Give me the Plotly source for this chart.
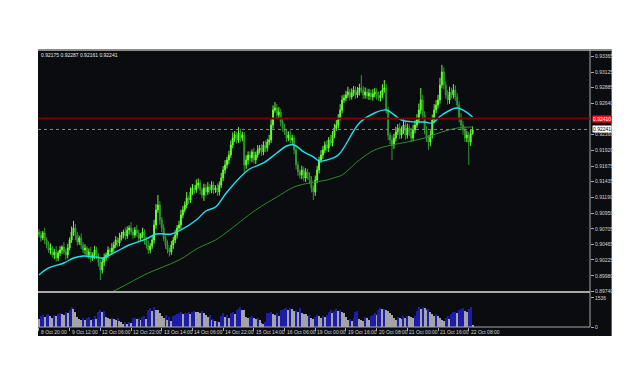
import plotly.graph_objects as go

# ---------------- data ----------------
open0 = 0.90657
closes = [
    0.90610, 0.90564, 0.90642, 0.90533, 0.90456, 0.90379, 0.90409, 0.90301, 0.90348, 0.90255,
    0.90332, 0.90379, 0.90425, 0.90348, 0.90301, 0.90409, 0.90533, 0.90657, 0.90719, 0.90610,
    0.90502, 0.90564, 0.90456, 0.90379, 0.90409, 0.90301, 0.90348, 0.90255, 0.90301, 0.90379,
    0.90286, 0.90193, 0.90070, 0.90193, 0.90255, 0.90301, 0.90379, 0.90348, 0.90409, 0.90456,
    0.90533, 0.90487, 0.90564, 0.90610, 0.90657, 0.90595, 0.90688, 0.90719, 0.90657, 0.90610,
    0.90688, 0.90642, 0.90564, 0.90610, 0.90657, 0.90533, 0.90456, 0.90379, 0.90440, 0.90533,
    0.90765, 0.90997, 0.91074, 0.90842, 0.90719, 0.90564, 0.90456, 0.90379, 0.90348, 0.90456,
    0.90533, 0.90610, 0.90719, 0.90765, 0.90919, 0.90997, 0.91074, 0.91182, 0.91151, 0.91275,
    0.91337, 0.91306, 0.91383, 0.91414, 0.91306, 0.91228, 0.91337, 0.91275, 0.91352, 0.91306,
    0.91383, 0.91306, 0.91337, 0.91275, 0.91383, 0.91491, 0.91615, 0.91692, 0.91769, 0.91846,
    0.92001, 0.92109, 0.92155, 0.92078, 0.92186, 0.92109, 0.92155, 0.91692, 0.91769, 0.91846,
    0.91800, 0.91893, 0.91769, 0.91846, 0.91924, 0.91954, 0.91893, 0.92001, 0.91954, 0.92047,
    0.92078, 0.92310, 0.92541, 0.92573, 0.92464, 0.92511, 0.92356, 0.92263, 0.92202, 0.92109,
    0.92155, 0.92078, 0.92109, 0.91924, 0.91692, 0.91584, 0.91537, 0.91615, 0.91491, 0.91584,
    0.91522, 0.91460, 0.91337, 0.91275, 0.91460, 0.91615, 0.91769, 0.91846, 0.91924, 0.92001,
    0.91954, 0.92078, 0.92032, 0.92155, 0.92263, 0.92310, 0.92418, 0.92541, 0.92696, 0.92727,
    0.92773, 0.92820, 0.92742, 0.92804, 0.92851, 0.92773, 0.92820, 0.92881, 0.92851, 0.92773,
    0.92820, 0.92758, 0.92804, 0.92742, 0.92789, 0.92820, 0.92758, 0.92727, 0.92773, 0.92851,
    0.92881, 0.92541, 0.92155, 0.92078, 0.92001, 0.92109, 0.92202, 0.92263, 0.92155, 0.92233,
    0.92310, 0.92155, 0.92263, 0.92202, 0.92109, 0.92233, 0.92310, 0.92387, 0.92541, 0.92696,
    0.92464, 0.92233, 0.92109, 0.92047, 0.92155, 0.92387, 0.92541, 0.92619, 0.92696, 0.92928,
    0.93129, 0.92928, 0.92773, 0.92696, 0.92820, 0.92773, 0.92851, 0.92742, 0.92619, 0.92418,
    0.92310, 0.92233, 0.92109, 0.92155, 0.92047, 0.92175, 0.92241,
]
# wick extensions beyond the body, in points (1e-5)
upper_wick = [
    45, 60, 30, 80, 40, 55, 70, 35, 50, 90, 40, 60, 25, 75, 50, 65, 40, 85, 110, 60,
    50, 35, 70, 45, 60, 30, 55, 80, 40, 65, 50, 45, 30, 60, 70, 40, 55, 35, 75, 50,
    60, 45, 80, 50, 35, 70, 55, 40, 90, 60, 45, 75, 50, 30, 65, 40, 55, 70, 45, 60,
    80, 90, 154, 60, 45, 55, 40, 70, 35, 60, 50, 75, 45, 65, 80, 60, 55, 90, 40, 70,
    60, 45, 85, 70, 50, 40, 65, 55, 75, 45, 60, 50, 40, 70, 55, 80, 60, 75, 50, 65,
    70, 85, 60, 55, 90, 65, 50, 45, 70, 55, 60, 40, 65, 50, 75, 45, 60, 55, 70, 50,
    80, 90, 70, 90, 60, 75, 50, 45, 65, 40, 55, 70, 50, 45, 60, 55, 40, 65, 50, 60,
    45, 55, 60, 40, 70, 65, 50, 75, 60, 55, 70, 45, 80, 60, 65, 75, 60, 90, 70, 55,
    65, 80, 50, 70, 60, 55, 75, 65, 201, 60, 70, 55, 65, 50, 75, 60, 55, 70, 65, 90,
    124, 60, 50, 40, 70, 65, 80, 60, 75, 55, 90, 60, 70, 55, 65, 80, 70, 90, 100, 185,
    80, 60, 55, 45, 70, 85, 90, 75, 80, 110, 107, 70, 60, 75, 80, 65, 90, 70, 60, 55,
    70, 60, 55, 65, 50, 60, 46,
]
lower_wick = [
    40, 55, 35, 60, 50, 45, 70, 40, 65, 55, 50, 45, 60, 40, 75, 50, 35, 45, 60, 80,
    55, 45, 60, 50, 70, 40, 55, 65, 45, 60, 50, 70, 155, 55, 60, 45, 50, 65, 40, 55,
    45, 60, 50, 40, 55, 65, 45, 70, 50, 60, 40, 55, 65, 50, 45, 70, 55, 60, 50, 45,
    55, 60, 45, 70, 65, 50, 60, 55, 70, 45, 60, 50, 55, 45, 60, 50, 40, 55, 65, 45,
    50, 60, 45, 55, 70, 50, 90, 60, 45, 55, 50, 65, 45, 60, 55, 45, 50, 60, 55, 65,
    45, 50, 60, 55, 45, 60, 50, 108, 60, 70, 55, 65, 50, 60, 45, 55, 60, 50, 65, 55,
    50, 45, 55, 40, 60, 50, 65, 55, 45, 60, 50, 55, 60, 65, 70, 60, 55, 65, 50, 60,
    55, 65, 70, 124, 60, 50, 55, 45, 60, 50, 55, 60, 45, 55, 50, 45, 55, 40, 50, 45,
    50, 45, 55, 40, 50, 60, 45, 55, 50, 60, 55, 50, 60, 45, 55, 50, 60, 45, 55, 50,
    45, 55, 80, 70, 232, 60, 55, 50, 65, 55, 60, 70, 55, 60, 65, 50, 55, 45, 50, 60,
    55, 70, 60, 123, 65, 55, 50, 45, 55, 60, 50, 65, 55, 70, 60, 50, 55, 60, 65, 70,
    80, 70, 60, 65, 355, 60, 14,
]
volumes = [
    420, 560, 610, 520, 650, 700, 590, 480, 620, 560, 700, 760, 690, 640, 800, 720, 900, 1040, 960, 820,
    520, 430, 380, 460, 350, 480, 520, 390, 450, 560, 410, 820, 900, 780, 860, 520, 460, 400, 480, 420,
    380, 460, 300, 260, 180, 240, 150, 280, 220, 470, 500, 440, 480, 380, 520, 560, 450, 900, 980, 860,
    1040, 920, 880, 760, 560, 480, 620, 380, 520, 300, 560, 620, 700, 760, 820, 680, 740, 760, 820, 700,
    820, 840, 800, 790, 720, 860, 760, 620, 540, 640, 380, 420, 300, 340, 260, 600, 720, 540, 650, 500,
    720, 800, 690, 880, 960, 1040, 920, 880, 540, 480, 520, 560, 470, 420, 500, 380, 220, 180, 240, 720,
    760, 820, 690, 640, 760, 600, 880, 900, 940, 1000, 880, 1020, 960, 860, 900, 820, 980, 760, 700, 680,
    560, 620, 480, 420, 520, 640, 560, 480, 600, 540, 620, 820, 900, 760, 860, 960, 840, 880, 780, 720,
    540, 360, 420, 300, 480, 820, 840, 400, 360, 300, 520, 460, 380, 560, 640, 720, 640, 900, 1000, 940,
    960, 900, 840, 760, 620, 480, 380, 540, 500, 420, 560, 480, 600, 560, 520, 480, 600, 860, 1060, 940,
    1040, 1000, 880, 960, 820, 680, 560, 700, 600, 480, 380, 300, 460, 560, 420, 700, 780, 820, 720, 880,
    940, 1000, 860, 780, 960, 1040, 90,
]
ma_fast_idx = [0, 5, 13, 18, 23, 30, 33, 40, 47, 56, 61, 69, 74, 82, 87, 92, 98, 109, 117, 124,
               129, 133, 138, 143, 146, 150, 156, 167, 175, 181, 189, 196, 201, 205, 210, 218, 226]
ma_fast_val = [0.89992, 0.90101, 0.90178, 0.90255, 0.90286, 0.90270, 0.90255, 0.90348, 0.90456, 0.90549,
               0.90626, 0.90626, 0.90688, 0.90842, 0.90981, 0.91043, 0.91275, 0.91615, 0.91723, 0.91877,
               0.91985, 0.92001, 0.91893, 0.91816, 0.91754, 0.91769, 0.91846, 0.92341, 0.92495, 0.92541,
               0.92387, 0.92356, 0.92356, 0.92341, 0.92464, 0.92572, 0.92433]
ma_slow_idx = [35, 40, 47, 57, 73, 83, 92, 98, 113, 124, 133, 141, 150, 155, 158, 167, 175, 184,
               192, 201, 210, 218, 226]
ma_slow_val = [0.89690, 0.89760, 0.89869, 0.90023, 0.90224, 0.90409, 0.90533, 0.90657, 0.90997, 0.91197,
               0.91352, 0.91414, 0.91460, 0.91506, 0.91537, 0.91769, 0.91924, 0.92001, 0.92047, 0.92109,
               0.92202, 0.92263, 0.92279]
price_ticks = [0.93365, 0.93125, 0.92885, 0.92640, 0.92160, 0.91920, 0.91675, 0.91435,
               0.91190, 0.90950, 0.90705, 0.90465, 0.90225, 0.89980, 0.89740]
time_tick_idx = [0, 16, 32, 48, 64, 80, 96, 112, 128, 144, 160, 176, 192, 208, 224]
time_labels = ["8 Oct 20:00", "9 Oct 12:00", "12 Oct 06:00", "12 Oct 22:00", "13 Oct 14:00",
               "14 Oct 06:00", "14 Oct 22:00", "15 Oct 14:00", "16 Oct 06:00", "19 Oct 00:00",
               "19 Oct 16:00", "20 Oct 08:00", "21 Oct 00:00", "21 Oct 16:00", "22 Oct 08:00"]
vol_ticks = [0, 1536]
level_red = 0.92410
last_bid = 0.92241
info_text = "0.92175 0.92287 0.92161 0.92241"

# ---------------- build ----------------
n = len(closes)
xs = list(range(n))
opens = [open0] + closes[:-1]
highs = [max(o, c) + u / 1e5 for o, c, u in zip(opens, closes, upper_wick)]
lows = [min(o, c) - d / 1e5 for o, c, d in zip(opens, closes, lower_wick)]
vcolors = ['#1c1ca8' if i > 0 and volumes[i] > volumes[i - 1] else '#a4a4a4' for i in range(n)]

BG = '#0b0c0f'
AX = '#a8a8a8'
TXT = '#d4d4d4'
FONT = 'Liberation Sans, Arial, sans-serif'

fig = go.Figure()
fig.add_trace(go.Candlestick(
    x=xs, open=opens, high=highs, low=lows, close=closes,
    increasing=dict(line=dict(color='#66ff33', width=1), fillcolor='#66ff33'),
    decreasing=dict(line=dict(color='#2f9a2f', width=1), fillcolor='#2f9a2f'),
    whiskerwidth=0, showlegend=False, hoverinfo='skip', xaxis='x', yaxis='y'))
fig.add_trace(go.Scatter(x=ma_slow_idx, y=ma_slow_val, mode='lines',
                         line=dict(color='#2e8b2e', width=1, shape='spline'),
                         showlegend=False, hoverinfo='skip', xaxis='x', yaxis='y'))
fig.add_trace(go.Scatter(x=ma_fast_idx, y=ma_fast_val, mode='lines',
                         line=dict(color='#19e6f0', width=1.4, shape='spline'),
                         showlegend=False, hoverinfo='skip', xaxis='x', yaxis='y'))
fig.add_trace(go.Bar(x=xs, y=volumes, width=0.6,
                     marker=dict(color=vcolors, line=dict(width=0)),
                     showlegend=False, hoverinfo='skip', xaxis='x2', yaxis='y2'))

y_top_px, y_bot_px = 50, 327
H = y_bot_px - y_top_px
main_lo = (y_bot_px - 292) / H
vol_hi = (y_bot_px - 293) / H

shapes = [
    dict(type='rect', xref='paper', yref='paper', x0=0, x1=(621 - 38) / 561, y0=-(336 - 327) / H, y1=1.0,
         fillcolor=BG, line=dict(width=0), layer='below'),
    dict(type='line', xref='paper', yref='paper', x0=0, x1=(621 - 38) / 561, y0=1.0, y1=1.0,
         line=dict(color='#8c8c8c', width=2)),
    dict(type='line', xref='paper', yref='paper', x0=0, x1=1, y0=main_lo, y1=main_lo,
         line=dict(color=AX, width=2)),
    dict(type='line', xref='paper', yref='paper', x0=1, x1=1, y0=0, y1=1,
         line=dict(color=AX, width=1)),
    dict(type='line', xref='paper', yref='paper', x0=0, x1=1, y0=0, y1=0,
         line=dict(color=AX, width=1)),
    dict(type='line', xref='paper', yref='y', x0=0, x1=1, y0=level_red, y1=level_red,
         line=dict(color='#7a0000', width=2)),
    dict(type='line', xref='paper', yref='y', x0=0, x1=1, y0=last_bid, y1=last_bid,
         line=dict(color='#8a8a8a', width=1, dash='dot')),
]

annotations = [
    dict(xref='paper', yref='y', x=1, y=level_red, text='%.5f' % level_red, showarrow=False,
         xanchor='left', yanchor='middle', xshift=2, bgcolor='#ff1010', borderpad=0,
         font=dict(family=FONT, size=5, color='#ffffff')),
    dict(xref='paper', yref='y', x=1, y=last_bid, text='%.5f' % last_bid, showarrow=False,
         xanchor='left', yanchor='middle', xshift=2, bgcolor='#ffffff', borderpad=0,
         font=dict(family=FONT, size=5, color='#000000')),
    dict(xref='paper', yref='paper', x=0.002, y=(y_bot_px - 54.5) / H, text=info_text, showarrow=False,
         xanchor='left', yanchor='middle', font=dict(family=FONT, size=5, color='#e8e8e8')),
]
for ti, tl in zip(time_tick_idx, time_labels):
    annotations.append(dict(xref='x2', yref='paper', x=ti, y=-(332 - 327) / H, text=tl, showarrow=False,
                            xanchor='left', yanchor='middle', xshift=0,
                            font=dict(family=FONT, size=5, color=TXT)))

fig.update_layout(
    width=625, height=376, autosize=False,
    margin=dict(l=38, r=26, t=50, b=49, pad=0),
    paper_bgcolor='#ffffff', plot_bgcolor=BG,
    showlegend=False, bargap=0,
    font=dict(family=FONT, size=5, color=TXT),
    xaxis=dict(domain=[0, 1], anchor='y', range=[-0.5, 287.2], showgrid=False, zeroline=False,
               showticklabels=False, ticks='', rangeslider=dict(visible=False), showline=False),
    yaxis=dict(domain=[main_lo, 1], anchor='x', range=[0.89730, 0.93468], side='right',
               tickvals=price_ticks, ticktext=['%.5f' % v for v in price_ticks],
               tickfont=dict(family=FONT, size=5, color=TXT), ticks='outside', ticklen=3,
               tickcolor=AX, showgrid=False, zeroline=False, showline=False),
    xaxis2=dict(domain=[0, 1], anchor='y2', matches='x', showgrid=False, zeroline=False,
                tickvals=time_tick_idx, showticklabels=False, ticks='outside', ticklen=3,
                tickcolor=AX, showline=False),
    yaxis2=dict(domain=[0, vol_hi], anchor='x2', range=[0, 1800], side='right',
                tickvals=vol_ticks, ticktext=[str(v) for v in vol_ticks],
                tickfont=dict(family=FONT, size=5, color=TXT), ticks='outside', ticklen=3,
                tickcolor=AX, showgrid=False, zeroline=False, showline=False),
    shapes=shapes, annotations=annotations,
)

fig.write_html("out.html")
